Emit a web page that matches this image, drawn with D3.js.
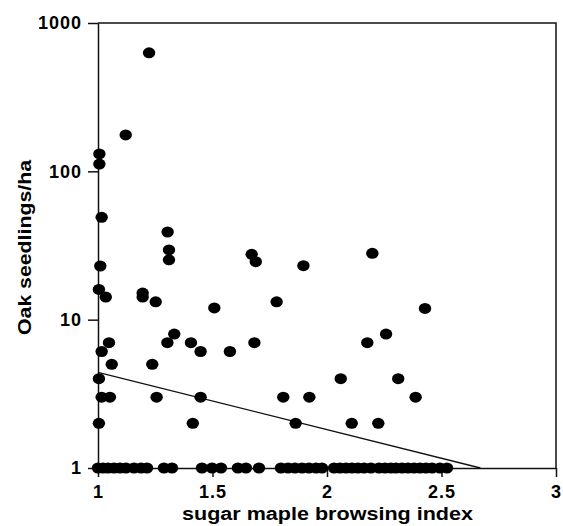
<!DOCTYPE html>
<html>
<head>
<meta charset="utf-8">
<script src="https://cdn.jsdelivr.net/npm/d3@7"></script>
<style>
	body { margin: 0; background: #fff; }
	svg { display: block; font-family: "Liberation Sans", Arial, Helvetica, sans-serif; }
	.axis text { font-size: 18px; font-weight: bold; fill: #000; letter-spacing: 1px; }
	.axis path, .axis line { stroke: #111; stroke-width: 1.5; }
	.title { font-size: 18px; font-weight: bold; fill: #000; }
</style>
</head>
<body>
<div id="chart"></div>
<script>
// plots with oak seedlings above 1/ha
const browseIdx = [1.223, 1.121, 1.006, 1.006, 1.016, 1.010, 1.004, 1.034, 1.304, 1.310,
	1.310, 1.195, 1.195, 1.252, 1.671, 1.689, 1.508, 1.048, 1.016, 1.060,
	1.237, 1.303, 1.333, 1.406, 1.448, 1.576, 1.683, 1.004, 1.016, 1.052,
	1.256, 1.448, 1.004, 1.414, 1.897, 2.198, 1.780, 2.428, 2.176, 2.258,
	2.060, 2.311, 1.809, 1.923, 2.387, 1.863, 2.108, 2.224];
const seedlings = [630, 176, 131, 112, 49, 23, 16, 14.2, 39, 29.5,
	25.3, 15.1, 14.2, 13.2, 27.6, 24.6, 12.0, 7.0, 6.1, 5.0,
	5.0, 7.0, 8.0, 7.0, 6.1, 6.1, 7.0, 4.0, 3.0, 3.0,
	3.0, 3.0, 2.0, 2.0, 23.1, 28, 13.2, 11.9, 7.0, 8.0,
	4.0, 4.0, 3.0, 3.0, 3.0, 2.0, 2.0, 2.0];

// plots sitting on the baseline (value 1)
const baselineIdx = [1.000, 1.022, 1.044, 1.070, 1.096, 1.122, 1.157, 1.188, 1.214, 1.288,
	1.323, 1.454, 1.498, 1.537, 1.611, 1.646, 1.703, 1.799, 1.830, 1.860,
	1.891, 1.921, 1.952, 1.978, 2.031, 2.057, 2.083, 2.109, 2.135, 2.162,
	2.192, 2.227, 2.253, 2.279, 2.301, 2.328, 2.354, 2.380, 2.406, 2.432,
	2.459, 2.493, 2.524];

// fitted line endpoints [x, y]
const fitLine = [[1, 4.42], [2.67, 1]];

const xTicks = [1, 1.5, 2, 2.5, 3];
const yTicks = [1, 10, 100, 1000];

const DIMENSIONS = {
	size: [563, 526],
	margin: { top: 23, right: 7, bottom: 58, left: 98 }
};

const width = DIMENSIONS.size[0];
const height = DIMENSIONS.size[1];
const m = DIMENSIONS.margin;

const svg = d3.select('#chart').append('svg')
	.attr('width', width)
	.attr('height', height);

const xScale = d3.scaleLinear([1, 3], [m.left, width - m.right]);
const yScale = d3.scaleLog([1, 1000], [height - m.bottom, m.top]);

// frame (top and right)
svg.append('path')
	.attr('d', `M${xScale(1)},${yScale(1000)}H${xScale(3)}V${yScale(1)}`)
	.attr('fill', 'none')
	.attr('stroke', '#111')
	.attr('stroke-width', 1.5);

svg.append('g')
	.attr('class', 'axis')
	.attr('transform', `translate(0,${yScale(1)})`)
	.call(d3.axisBottom(xScale).tickValues(xTicks).tickSize(9).tickPadding(8).tickSizeOuter(0)
		.tickFormat(d3.format('')));

svg.append('g')
	.attr('class', 'axis')
	.attr('transform', `translate(${xScale(1)},0)`)
	.call(d3.axisLeft(yScale).tickValues(yTicks).tickSize(10).tickPadding(6).tickSizeOuter(0)
		.tickFormat(d3.format('')));

// regression line
svg.append('path')
	.datum(fitLine)
	.attr('fill', 'none')
	.attr('stroke', '#111')
	.attr('stroke-width', 1.3)
	.attr('d', d3.line(d => xScale(d[0]), d => yScale(d[1])));

const dots = svg.append('g').attr('fill', '#000');

dots.selectAll('.base')
	.data(baselineIdx)
	.join('ellipse')
	.attr('class', 'base')
	.attr('cx', d => xScale(d))
	.attr('cy', yScale(1))
	.attr('rx', 6.2)
	.attr('ry', 5.5);

dots.selectAll('.pt')
	.data(d3.range(browseIdx.length))
	.join('ellipse')
	.attr('class', 'pt')
	.attr('cx', i => xScale(browseIdx[i]))
	.attr('cy', i => yScale(seedlings[i]))
	.attr('rx', 6.2)
	.attr('ry', 5.5);

// axis titles
svg.append('text')
	.attr('class', 'title')
	.attr('x', 182)
	.attr('y', 520)
	.attr('textLength', 291)
	.attr('lengthAdjust', 'spacingAndGlyphs')
	.text('sugar maple browsing index');

svg.append('text')
	.attr('class', 'title')
	.attr('transform', 'translate(31,335) rotate(-90)')
	.attr('textLength', 175)
	.attr('lengthAdjust', 'spacingAndGlyphs')
	.text('Oak seedlings/ha');
</script>
</body>
</html>
